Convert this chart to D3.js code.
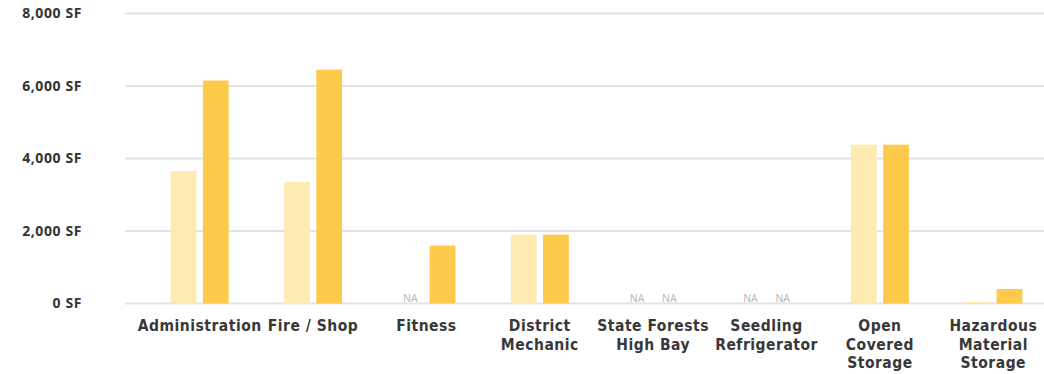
<!DOCTYPE html>
<html><head><meta charset="utf-8">
<script src="https://cdn.jsdelivr.net/npm/d3@7"></script>
<style>
body{margin:0;background:#fff;}
svg{display:block;font-family:"Open Sans","Noto Sans",sans-serif;}
.cat{font-family:"DejaVu Sans Condensed","DejaVu Sans",sans-serif;font-stretch:condensed;}
</style></head>
<body>
<svg id="c" width="1044" height="374"></svg>
<script>
const categories = [["Administration"],["Fire / Shop"],["Fitness"],["District","Mechanic"],["State Forests","High Bay"],["Seedling","Refrigerator"],["Open","Covered","Storage"],["Hazardous","Material","Storage"]];
const seriesNames = ["Existing","Proposed"];
const existing = [3650, 3350, null, 1900, null, null, 4380, 30];
const proposed = [6150, 6450, 1600, 1900, null, null, 4380, 400];
const yTicks = [0, 2000, 4000, 6000, 8000];
const colors = ["#FDEBB2", "#FECA4C"];

const svg = d3.select("#c");
const W = 1044, H = 374;
const y = d3.scaleLinear().domain([0, 8000]).range([303.5, 13.5]);
const x0 = d3.scaleBand().domain(d3.range(categories.length)).range([143, 1050]).paddingInner(0).paddingOuter(0);
const x1 = d3.scaleBand().domain([0,1]).range([-29, 29]).paddingInner(0.2);

// gridlines
svg.append("g").selectAll("line").data(yTicks).join("line")
  .attr("x1", 125).attr("x2", W).attr("y1", d => y(d)).attr("y2", d => y(d))
  .attr("stroke", "#e3e3e3").attr("stroke-width", 2);

// y axis labels
const fmt = d3.format(",");
svg.append("g").selectAll("text").data(yTicks).join("text")
  .attr("x", 82).attr("y", d => y(d)).attr("dy", "0.35em")
  .attr("text-anchor", "end").attr("font-size", 14).attr("font-weight", 700)
  .attr("letter-spacing", 0.6)
  .attr("fill", "#333").text(d => fmt(d) + " SF");

const data = [existing, proposed];
const g = svg.append("g");
categories.forEach((cat, i) => {
  const cx = x0(i) + x0.bandwidth() / 2;
  data.forEach((series, s) => {
    const v = series[i];
    const bx = cx + x1(s);
    if (v == null) {
      g.append("text").attr("x", bx + x1.bandwidth() / 2).attr("y", y(0) - 2)
        .attr("text-anchor", "middle").attr("font-size", 10.5).attr("fill", "#b5b5b5")
        .text("NA");
    } else {
      const h = Math.max(y(0) - y(v), 1.5);
      g.append("rect").attr("x", bx).attr("y", y(0) - h).attr("width", x1.bandwidth())
        .attr("height", h).attr("fill", colors[s]);
    }
  });
  cat.forEach((line, k) => {
    g.append("text").attr("class", "cat").attr("x", cx).attr("y", 331 + k * 18.5)
      .attr("text-anchor", "middle").attr("font-size", 15.5).attr("font-weight", 700)
      .attr("letter-spacing", 0.5).attr("fill", "#383838").text(line);
  });
});
</script>
</body></html>
